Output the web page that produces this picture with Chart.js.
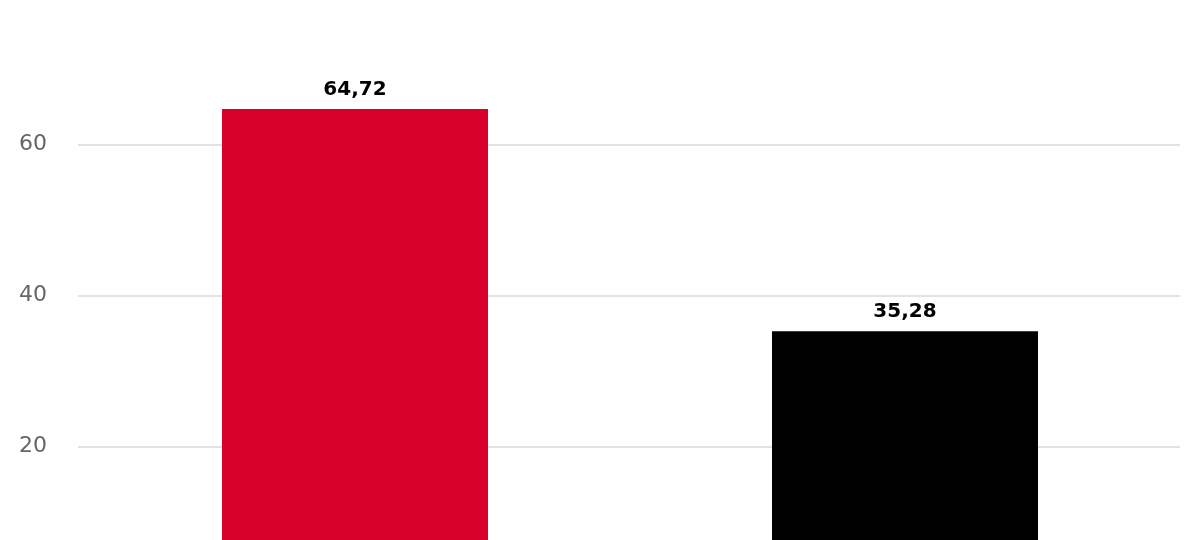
<!DOCTYPE html>
<html>
<head>
<meta charset="utf-8">
<script src="https://cdn.jsdelivr.net/npm/chart.js@4/dist/chart.umd.min.js"></script>
<style>
    html, body { margin: 0; padding: 0; background: #ffffff; overflow: hidden; }
    #chart { display: block; }
</style>
</head>
<body>
<canvas id="chart" width="1200" height="540"></canvas>
<script>
// the picture is a crop: the value axis runs from about 7.6 at the bottom edge to about 79.2 at the top edge
const categories = ["A", "B"];
const shareValues = [64.72, 35.28];
const barColors = ["#d7002a", "#000000"];
const yTicks = [20, 40, 60, 80];
const yMin = 7.64;
const yMax = 79.17;

const fontFamily = "'DejaVu Sans', Verdana, sans-serif";

const valueLabels = {
    id: "valueLabels",
    afterDatasetsDraw(chart) {
        const ctx = chart.ctx;
        const meta = chart.getDatasetMeta(0);
        ctx.save();
        ctx.font = "bold 20px " + fontFamily;
        ctx.fillStyle = "#000000";
        ctx.textAlign = "center";
        ctx.textBaseline = "alphabetic";
        meta.data.forEach((bar, i) => {
            const text = shareValues[i].toFixed(2).replace(".", ",");
            ctx.fillText(text, bar.x, bar.y - 14);
        });
        ctx.restore();
    }
};

new Chart(document.getElementById("chart"), {
    type: "bar",
    data: {
        labels: categories,
        datasets: [{
            data: shareValues,
            backgroundColor: barColors,
            borderWidth: 0,
            categoryPercentage: 1,
            barPercentage: 0.4836
        }]
    },
    options: {
        responsive: false,
        animation: false,
        devicePixelRatio: 1,
        layout: { padding: { top: 0, right: 20, bottom: 0, left: 0 } },
        plugins: { legend: { display: false }, tooltip: { enabled: false } },
        scales: {
            x: { display: false },
            y: {
                min: yMin,
                max: yMax,
                afterBuildTicks: scale => { scale.ticks = yTicks.map(v => ({ value: v })); },
                afterFit: scale => {
                    scale.width = 80;
                    scale.paddingTop = 0;
                    scale.paddingBottom = 0;
                },
                border: { display: false },
                grid: { color: "#e3e3e3", lineWidth: 2, drawTicks: true, tickLength: 2, tickColor: "#e3e3e3" },
                ticks: {
                    padding: 31,
                    color: "#666666",
                    font: { family: fontFamily, size: 22 }
                }
            }
        }
    },
    plugins: [valueLabels]
});
</script>
</body>
</html>
